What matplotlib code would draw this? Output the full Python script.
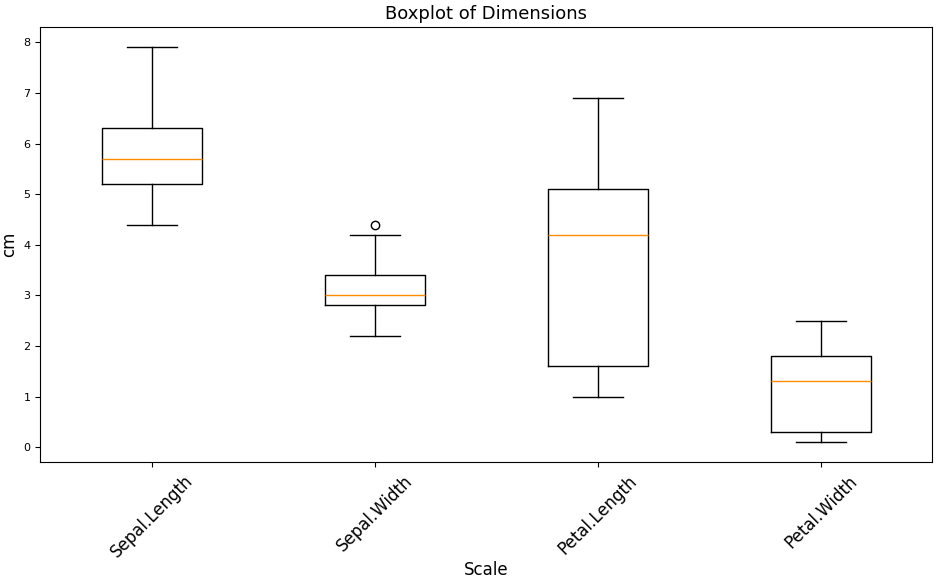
import matplotlib.pyplot as plt

# five-number summaries
names = ['Sepal.Length', 'Sepal.Width', 'Petal.Length', 'Petal.Width']
lows = [4.4, 2.2, 1.0, 0.1]
q1s = [5.2, 2.8, 1.6, 0.3]
medians = [5.7, 3.0, 4.2, 1.3]
q3s = [6.3, 3.4, 5.1, 1.8]
highs = [7.9, 4.2, 6.9, 2.5]
fliers = [[], [4.4], [], []]

stats = []
for i in range(len(names)):
    stats.append({'label': names[i], 'whislo': lows[i], 'q1': q1s[i], 'med': medians[i],
                  'q3': q3s[i], 'whishi': highs[i], 'fliers': fliers[i]})

fig = plt.figure(figsize=(9.39, 5.8), dpi=100)
ax = fig.add_axes([0.043, 0.203, 0.950, 0.750])
ax.bxp(stats, medianprops={'color': 'darkorange'})
ax.set_ylim(-0.3, 8.3)
ax.set_title('Boxplot of Dimensions', fontsize=13)
ax.set_xlabel('Scale', fontsize=12, labelpad=0)
ax.set_ylabel('cm', fontsize=12)
plt.xticks(rotation=45, fontsize=12)
plt.yticks(fontsize=8)
fig.savefig('out.png')
